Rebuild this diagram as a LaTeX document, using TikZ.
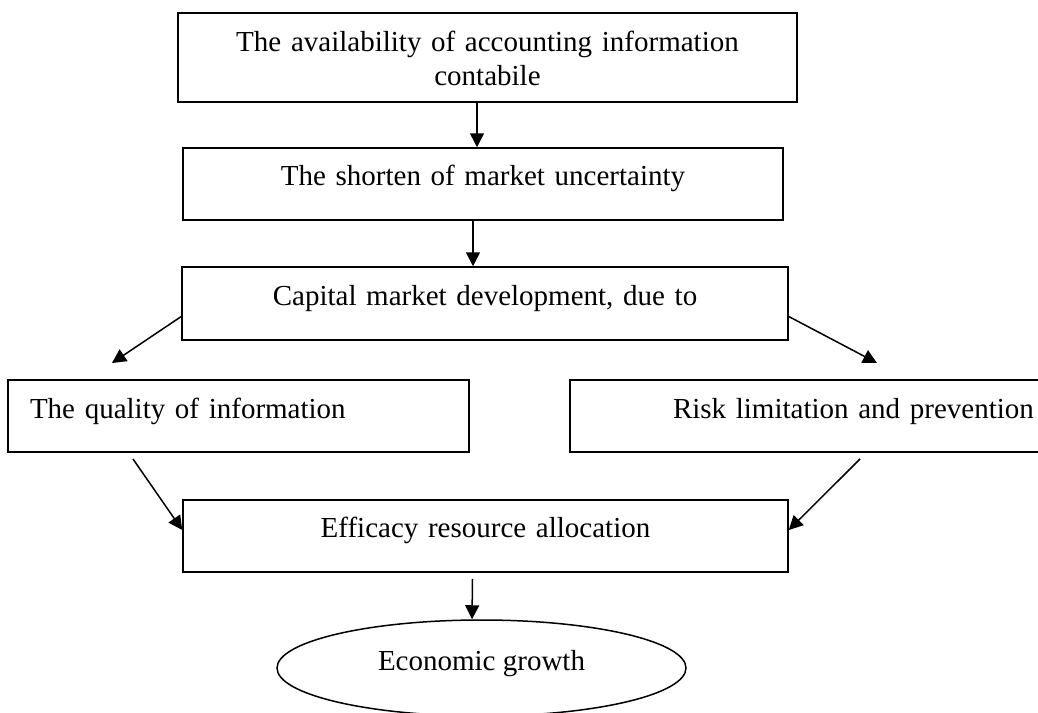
\documentclass[tikz,border=0pt]{standalone}
\usepackage{fontspec}
\setmainfont{Liberation Serif}
\usetikzlibrary{arrows.meta,shapes.geometric}
\begin{document}
\begin{tikzpicture}[x=1pt,y=-1pt,
  box/.style={draw, line width=1.5pt, inner sep=0pt, minimum height=0pt,
    font=\fontsize{29pt}{34pt}\selectfont},
  arr/.style={line width=1.5pt, -{Triangle[length=14pt,width=14pt]}}]
\clip (0,0) rectangle (1038,712);
\fill[white] (0,0) rectangle (1038,712);

% flow boxes
\node[box, text width=619pt, align=center, text height=38pt, text depth=51pt]
  (b1) at (487.5,57.5) {The availability of accounting information\\contabile};
\node[box, text width=600pt, align=center, text height=37pt, text depth=35pt]
  (b2) at (483,184) {The shorten of market uncertainty};
\node[box, text width=606pt, align=center, text height=38pt, text depth=35pt]
  (b3) at (485,303.5) {Capital market development, due to};
\node[box, text width=461pt, align=left, text height=38pt, text depth=34pt]
  (b4) at (238.5,416) {\hspace*{22pt}The quality of information};
\node[box, text width=476pt, align=left, text height=38pt, text depth=34pt]
  (b5) at (808,416) {\hspace*{103pt}Risk limitation and prevention};
\node[box, text width=605pt, align=center, text height=37pt, text depth=35pt]
  (b6) at (485.5,536) {Efficacy resource allocation};
\node[box, ellipse, minimum width=409pt, minimum height=96pt,
  text height=10pt, text depth=6pt] (e) at (481.5,668) {Economic growth};

% connectors
\coordinate (t4) at (112,363);
\coordinate (t5) at (877,363);
\coordinate (s4) at (133,459);
\coordinate (s5) at (860,459);
\draw[arr] ([xshift=-10.5pt]b1.south) -- ([xshift=-6pt]b2.north);
\draw[arr] ([xshift=-10pt]b2.south) -- ([xshift=-12pt]b3.north);
\draw[arr] ([yshift=-13pt]b3.west) -- (t4);
\draw[arr] ([yshift=-13pt]b3.east) -- (t5);
\draw[arr] (s4) -- ([yshift=6pt]b6.west);
\draw[arr] (s5) -- ([yshift=6pt]b6.east);
\draw[arr] ([xshift=-13pt,yshift=-6pt]b6.south) -- ([xshift=-9.5pt]e.north);
\end{tikzpicture}
\end{document}
